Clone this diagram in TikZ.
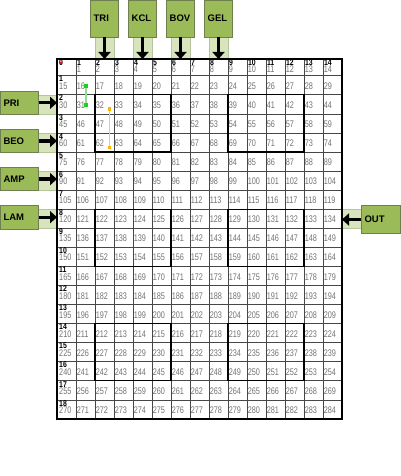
\documentclass[tikz,border=0pt]{standalone}
\usepackage{fontspec}
\setmainfont{Liberation Sans}
\newfontfamily\numf[FakeStretch=0.76]{Liberation Sans}
\newfontfamily\labf[FakeStretch=0.82]{Liberation Sans}
\usetikzlibrary{arrows.meta}
\definecolor{boxg}{HTML}{9BBB59}
\definecolor{boxb}{HTML}{6F7F4F}
\definecolor{stripc}{HTML}{D8E4BC}
\definecolor{stripb}{HTML}{B5C49A}
\definecolor{numgray}{HTML}{737373}
\definecolor{gdotc}{HTML}{22CC22}
\definecolor{glinec}{HTML}{8FE08F}
\definecolor{odotc}{HTML}{FFB300}
\definecolor{olinec}{HTML}{FFC94D}
\begin{document}
\begin{tikzpicture}[x=1pt,y=-1pt,
  tbox/.style={draw=boxb,line width=0.5pt,fill=boxg,font=\bfseries\fontsize{9.5}{11}\selectfont,inner xsep=3pt,inner ysep=0pt,align=left},
  stripbox/.style={draw=stripb,line width=0.5pt,fill=stripc},
  arr/.style={line width=3.2pt,-{Triangle[length=7pt,width=12pt]}},
  gridln/.style={draw=black!72,line width=0.65pt},
  thickbox/.style={draw=black,line width=1.2pt},
  num/.style={anchor=base west,inner sep=0pt,text=numgray,font=\numf\fontsize{9.6}{10}\selectfont},
  lab/.style={anchor=base west,inner sep=0pt,text=black,font=\labf\bfseries\fontsize{8.4}{9}\selectfont},
  dotg/.style={rectangle,fill=gdotc,inner sep=0pt,minimum size=3.2pt},
  doto/.style={rectangle,fill=odotc,inner sep=0pt,minimum size=3.2pt}
]
\useasboundingbox (0,0) rectangle (400,476);
\fill[white] (0,0) rectangle (400,476);

% strips for top inputs
\foreach \nm/\c in {tri/2,kcl/4,bov/6,gel/8}{
  \pgfmathsetmacro\xl{57+19*\c}
  \pgfmathsetmacro\xr{57+19*\c+19}
  \draw[stripbox] (\xl,37) rectangle (\xr,59.5);
}
% strips for left inputs
\foreach \nm/\r in {pri/2,beo/4,amp/6,lam/8}{
  \pgfmathsetmacro\yt{75.7+19.07*(\r-1)}
  \pgfmathsetmacro\yb{75.7+19.07*\r}
  \draw[stripbox] (38.3,\yt) rectangle (57,\yb);
}
% strip for output
\draw[stripbox] (342,209.3) rectangle (361,228.4);

% grid lines
\foreach \r in {1,...,18}{
  \pgfmathsetmacro\yy{75.7+19.07*(\r-1)}
  \draw[gridln] (57,\yy) -- (342,\yy);
}
\foreach \c in {1,...,14}{
  \pgfmathsetmacro\xx{57+19*\c}
  \draw[gridln] (\xx,59.3) -- (\xx,419);
}
% thick groups
\foreach \xa/\xb in {95/171,228/304}{
  \foreach \ra/\rb in {2/5,8/11,14/17}{
    \pgfmathsetmacro\ya{75.7+19.07*(\ra-1)}
    \pgfmathsetmacro\yb{75.7+19.07*(\rb-1)}
    \draw[thickbox] (\xa,\ya) rectangle (\xb,\yb);
  }
}
\draw[draw=black,line width=1.6pt] (57,59.3) rectangle (342,419);

% numbers
\foreach \r in {0,...,18}{
  \foreach \c in {0,...,14}{
    \pgfmathtruncatemacro\v{15*\r+\c}
    \pgfmathsetmacro\xx{57+19*\c+(\c==0 ? 2 : 0.6)}
    \pgfmathsetmacro\yy{(\r==0) ? 72.6 : (75.7+19.07*(\r-1)+13.6)}
    \ifnum\v>0 \node[num] (n\v) at (\xx,\yy) {\v};\fi
  }
}
% row labels
\foreach \r in {1,...,18}{
  \pgfmathsetmacro\yy{75.7+19.07*(\r-1)+6.2}
  \node[lab] (r\r) at (59,\yy) {\r};
}
% column labels
\foreach \c in {0,...,14}{
  \pgfmathsetmacro\xx{57+19*\c+(\c==0 ? 2 : 0.8)}
  \node[lab] (c\c) at (\xx,66) {\c};
}
\node[circle,fill=red,inner sep=0pt,minimum size=3pt] (origin) at (61.1,63) {};

% markers
\node[dotg] (g1) at (86,86) {};
\node[dotg] (g2) at (86,105) {};
\draw[glinec,line width=1.5pt] (g1) -- (g2);
\node[dotg] at (g1) {};
\node[doto] (o1) at (109.3,109) {};
\node[doto] (o2) at (109.3,147.7) {};
\draw[olinec,line width=1.5pt] (o1) -- (o2);
\node[doto] at (o1) {};

% top input boxes
\foreach \nm/\tx/\c in {tri/TRI/2,kcl/KCL/4,bov/BOV/6,gel/GEL/8}{
  \pgfmathsetmacro\cx{57+19*\c+9.5}
  \node[tbox,minimum width=27.7pt,minimum height=37pt,text width=21.7pt] (\nm) at (\cx,18.7) {\tx};
  \coordinate (\nm-tip) at (\cx,59);
  \draw[arr] (\nm.south) -- (\nm-tip);
}
% left input boxes
\foreach \nm/\tx/\r in {pri/PRI/2,beo/BEO/4,amp/AMP/6,lam/LAM/8}{
  \pgfmathsetmacro\cy{75.7+19.07*(\r-0.5)-1.5}
  \node[tbox,minimum width=38.3pt,minimum height=23.3pt,text width=31.3pt] (\nm) at (19.15,\cy) {\tx};
  \coordinate (\nm-tip) at (57,\cy);
  \draw[arr] (\nm.east) -- (\nm-tip);
}
% output box
\node[tbox,minimum width=39pt,minimum height=28pt,text width=32pt] (out) at (380.5,219.5) {OUT};
\coordinate (out-tip) at (342,219.5);
\draw[arr] (out.west) -- (out-tip);
\end{tikzpicture}
\end{document}
